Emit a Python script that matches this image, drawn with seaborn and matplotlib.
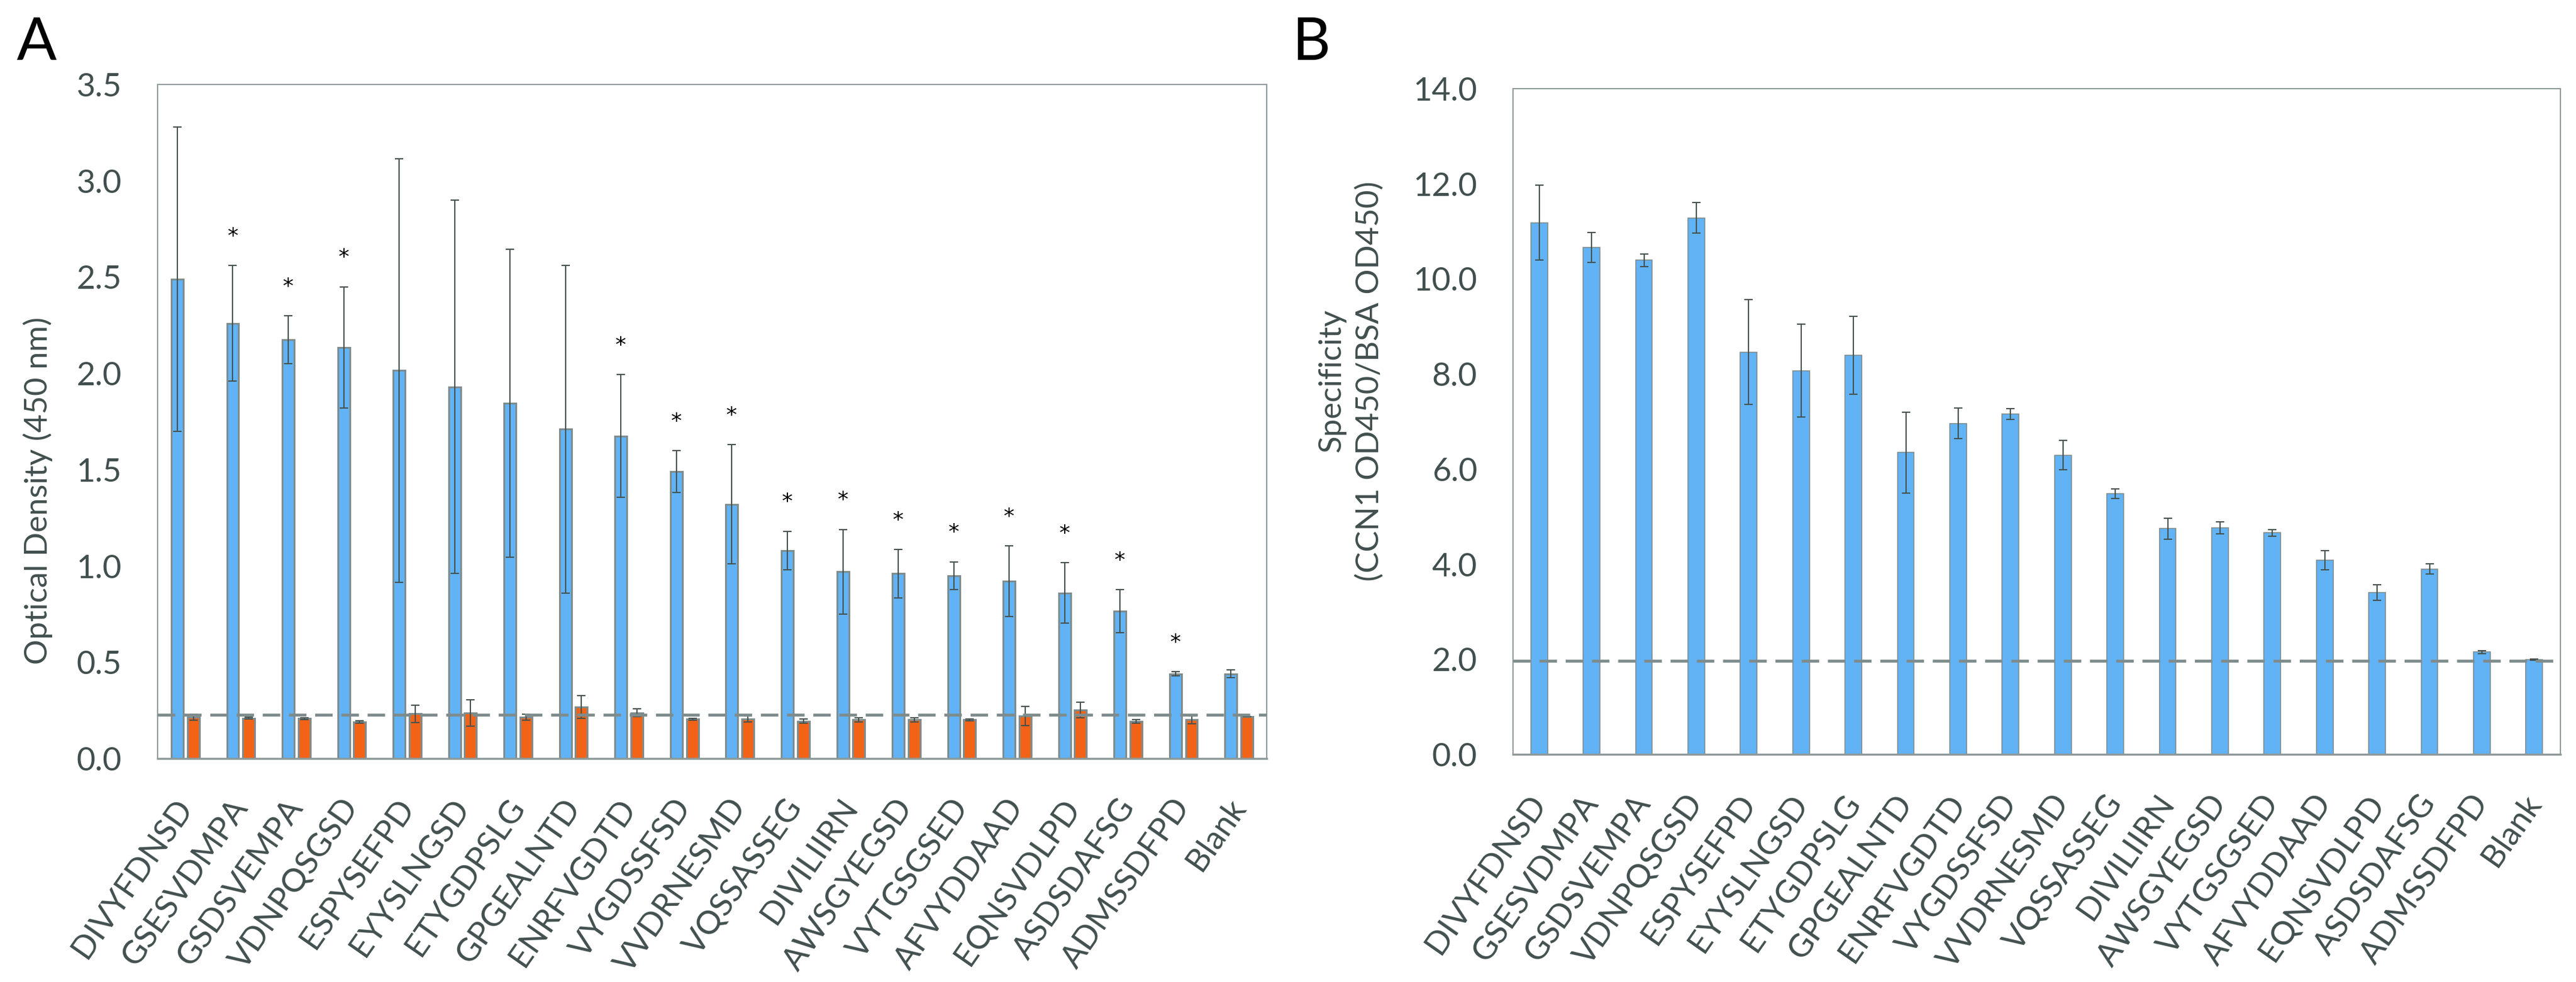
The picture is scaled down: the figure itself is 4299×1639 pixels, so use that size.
import numpy as np
import pandas as pd
import matplotlib
matplotlib.use("Agg")
import matplotlib.pyplot as plt
from matplotlib.ticker import FormatStrFormatter
import seaborn as sns

# ---------------- data ----------------
categories = ["DIVYFDNSD", "GSESVDMPA", "GSDSVEMPA", "VDNPQSGSD", "ESPYSEFPD",
              "EYYSLNGSD", "ETYGDPSLG", "GPGEALNTD", "ENRFVGDTD", "VYGDSSFSD",
              "VVDRNESMD", "VQSSASSEG", "DIVILIIRN", "AWSGYEGSD", "VYTGSGSED",
              "AFVYDDAAD", "EQNSVDLPD", "ASDSDAFSG", "ADMSSDFPD", "Blank"]

ccn1_od = [2.49, 2.26, 2.175, 2.135, 2.015, 1.93, 1.845, 1.71, 1.675, 1.49,
           1.32, 1.08, 0.97, 0.96, 0.95, 0.92, 0.86, 0.765, 0.44, 0.44]
ccn1_err = [0.79, 0.30, 0.125, 0.315, 1.10, 0.97, 0.80, 0.85, 0.32, 0.11,
            0.31, 0.10, 0.22, 0.125, 0.072, 0.183, 0.157, 0.112, 0.011, 0.02]
bsa_od = [0.215, 0.21, 0.208, 0.19, 0.233, 0.237, 0.215, 0.268, 0.237, 0.205,
          0.205, 0.194, 0.201, 0.201, 0.201, 0.222, 0.251, 0.193, 0.201, 0.219]
bsa_err = [0.015, 0.005, 0.005, 0.005, 0.045, 0.068, 0.015, 0.06, 0.02, 0.005,
           0.015, 0.01, 0.012, 0.012, 0.005, 0.05, 0.04, 0.01, 0.02, 0.0]
significant = [False, True, True, True, False, False, False, False, True, True,
               True, True, True, True, True, True, True, True, True, False]
threshold_a = 0.226

specificity = [11.18, 10.66, 10.39, 11.28, 8.46, 8.07, 8.39, 6.35, 6.96, 7.16,
               6.29, 5.48, 4.75, 4.76, 4.66, 4.08, 3.40, 3.90, 2.15, 1.99]
specificity_err = [0.79, 0.31, 0.13, 0.32, 1.10, 0.98, 0.82, 0.85, 0.32, 0.11,
                   0.31, 0.10, 0.22, 0.125, 0.07, 0.20, 0.16, 0.11, 0.03, 0.015]
threshold_b = 1.97

yticks_a = [0.0, 0.5, 1.0, 1.5, 2.0, 2.5, 3.0, 3.5]
yticks_b = [0.0, 2.0, 4.0, 6.0, 8.0, 10.0, 12.0, 14.0]

# ---------------- style ----------------
sns.set_theme(style="white")
plt.rcParams['font.family'] = ['Lato', 'DejaVu Sans']

TXT = '#424F4F'
SPINE = '#8E9A9A'
BLUE = '#61B3F6'
ORANGE = '#F26318'
EDGE = '#7F8C8D'
ERR = '#46524F'

W, H = 4299, 1639
fig = plt.figure(figsize=(W / 100, H / 100), dpi=100)
axA = fig.add_axes([263 / W, 1 - 1266 / H, (2114 - 263) / W, (1266 - 141) / H])
axB = fig.add_axes([2525 / W, 1 - 1259 / H, (4273 - 2525) / W, (1259 - 148) / H])

n = len(categories)

# ---------------- panel A ----------------
dfA = pd.DataFrame({
    "peptide": categories * 2,
    "target": ["CCN1"] * n + ["BSA"] * n,
    "od": ccn1_od + bsa_od,
})
sns.barplot(data=dfA, x="peptide", y="od", hue="target", hue_order=["CCN1", "BSA"],
            palette=[BLUE, ORANGE], saturation=1, width=0.576, gap=0.25,
            errorbar=None, edgecolor=EDGE, linewidth=2.2, legend=False, ax=axA)

blue_x = None
for cont, err in zip(axA.containers, [ccn1_err, bsa_err]):
    xs = [p.get_x() + p.get_width() / 2 for p in cont.patches]
    ys = [p.get_height() for p in cont.patches]
    if blue_x is None:
        blue_x = xs
    axA.errorbar(xs, ys, yerr=err, fmt='none', ecolor=ERR, elinewidth=1.5,
                 capsize=5, capthick=1.5, zorder=4)

for i, sig in enumerate(significant):
    if sig:
        axA.text(blue_x[i], ccn1_od[i] + ccn1_err[i] + 0.15, '*', ha='center',
                 va='center', fontsize=26, color='black', family='DejaVu Sans')

axA.axhline(threshold_a, color=EDGE, lw=3.5, dashes=(6, 3), zorder=5)
axA.set_ylim(0, 3.5)
axA.set_yticks(yticks_a)
axA.yaxis.set_major_formatter(FormatStrFormatter('%.1f'))
axA.set_xlabel('')
axA.set_ylabel('Optical Density (450 nm)', fontsize=38, color=TXT)
axA.yaxis.label.set_verticalalignment('center')
axA.yaxis.set_label_coords(-0.108, 0.397)

# ---------------- panel B ----------------
sns.barplot(x=categories, y=specificity, color=BLUE, saturation=1, width=0.32,
            errorbar=None, edgecolor=EDGE, linewidth=1.2, ax=axB)
contB = axB.containers[0]
xsB = [p.get_x() + p.get_width() / 2 for p in contB.patches]
ysB = [p.get_height() for p in contB.patches]
axB.errorbar(xsB, ysB, yerr=specificity_err, fmt='none', ecolor=ERR, elinewidth=1.5,
             capsize=5, capthick=1.5, zorder=4)
axB.axhline(threshold_b, color=EDGE, lw=3.5, dashes=(6, 3), zorder=5)
axB.set_ylim(0, 14)
axB.set_yticks(yticks_b)
axB.yaxis.set_major_formatter(FormatStrFormatter('%.1f'))
axB.set_xlabel('')
axB.set_ylabel('Specificity\n(CCN1 OD450/BSA OD450)', fontsize=38, color=TXT,
               multialignment='center', linespacing=1.4)
axB.yaxis.label.set_verticalalignment('center')
axB.yaxis.set_label_coords(-0.1545, 0.561)

# ---------------- common ----------------
for ax in (axA, axB):
    ax.set_xlim(-0.5, n - 0.5)
    ax.tick_params(axis='both', length=0, labelsize=39, colors=TXT)
    ax.tick_params(axis='x', pad=52)
    ax.tick_params(axis='y', pad=43)
    plt.setp(ax.get_xticklabels(), rotation=55, ha='right', va='center',
             rotation_mode='anchor')
    for s in ax.spines.values():
        s.set_visible(True)
        s.set_color(SPINE)
        s.set_linewidth(1.5)
    ax.spines['bottom'].set_linewidth(2.5)
    ax.grid(False)

fig.text(28 / W, 1 - 100 / H, 'A', fontsize=71, va='baseline', ha='left', color='black')
fig.text(2157 / W, 1 - 100 / H, 'B', fontsize=71, va='baseline', ha='left', color='black')

fig.savefig('out.png', dpi=100, facecolor='white')
